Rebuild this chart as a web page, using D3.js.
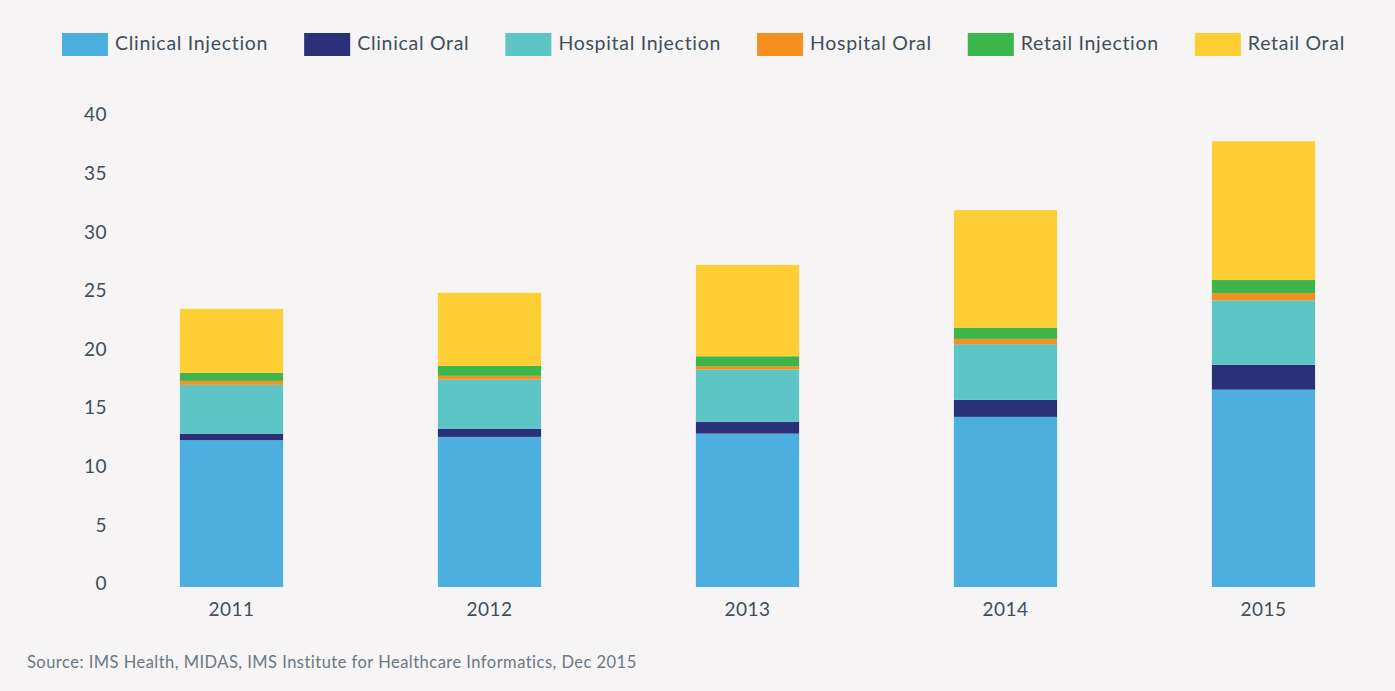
<!DOCTYPE html>
<html>
<head>
<meta charset="utf-8">
<script src="https://cdn.jsdelivr.net/npm/d3@7/dist/d3.min.js"></script>
<style>
    body { margin: 0; background: #f6f4f5; }
    #chart { width: 1395px; height: 691px; }
    text { font-family: Lato, "Open Sans", sans-serif; }
</style>
</head>
<body>
<div id="chart"></div>
<script>
// data (billions, stacked)
var years = ["2011", "2012", "2013", "2014", "2015"];
var seriesNames = ["Clinical Injection", "Clinical Oral", "Hospital Injection", "Hospital Oral", "Retail Injection", "Retail Oral"];
var clinicalInjection = [12.52, 12.80, 13.08, 14.51, 16.83];
var clinicalOral      = [0.56, 0.68, 1.00, 1.45, 2.13];
var hospitalInjection = [4.16, 4.21, 4.46, 4.75, 5.49];
var hospitalOral      = [0.34, 0.32, 0.29, 0.45, 0.62];
var retailInjection   = [0.68, 0.85, 0.85, 0.96, 1.11];
var retailOral        = [5.46, 6.23, 7.79, 10.02, 11.83];
var yTicks = [0, 5, 10, 15, 20, 25, 30, 35, 40];
var colors = ["#4daee0", "#2b3179", "#5dc5c5", "#f49120", "#3cb54a", "#fece35"];
var source = "Source: IMS Health, MIDAS, IMS Institute for Healthcare Informatics, Dec 2015";

var w = 1395, h = 691;
var textColor = "#3e4f5c";

var allSeries = [clinicalInjection, clinicalOral, hospitalInjection, hospitalOral, retailInjection, retailOral];
var table = years.map(function (y, i) {
    var row = { year: y };
    seriesNames.forEach(function (s, j) { row[s] = allSeries[j][i]; });
    return row;
});

var stacked = d3.stack().keys(seriesNames)(table);

var svg = d3.select("#chart")
    .append("svg")
    .attr("width", w)
    .attr("height", h);

svg.append("rect")
    .attr("width", w)
    .attr("height", h)
    .attr("fill", "#f6f4f5");

var xScale = d3.scaleBand()
    .domain(years)
    .range([102.5, 1392.5])
    .paddingInner(0.6)
    .paddingOuter(0.3);

var yScale = d3.scaleLinear()
    .domain([0, 40])
    .range([587, 118]);

var color = d3.scaleOrdinal().domain(seriesNames).range(colors);

// bars
svg.append("g").selectAll("g")
    .data(stacked)
    .enter()
    .append("g")
    .attr("fill", function (d) { return color(d.key); })
    .selectAll("rect")
    .data(function (d) { return d; })
    .enter()
    .append("rect")
    .attr("x", function (d) { return xScale(d.data.year); })
    .attr("y", function (d) { return yScale(d[1]); })
    .attr("width", xScale.bandwidth())
    .attr("height", function (d) { return yScale(d[0]) - yScale(d[1]); });

// y axis (labels only)
var yAxis = d3.axisLeft(yScale)
    .tickValues(yTicks)
    .tickSize(0)
    .tickPadding(0);

var gy = svg.append("g")
    .attr("transform", "translate(107,0)")
    .call(yAxis);
gy.select(".domain").remove();
gy.selectAll("text")
    .attr("font-family", "Lato, 'Open Sans', sans-serif")
    .attr("font-size", "19px")
    .attr("letter-spacing", "0.5px")
    .attr("fill", textColor)
    .attr("dy", "0.15em");

// x axis (labels only)
var xAxis = d3.axisBottom(xScale).tickSize(0).tickPadding(0);
var gx = svg.append("g")
    .attr("transform", "translate(0,587)")
    .call(xAxis);
gx.select(".domain").remove();
gx.selectAll("text")
    .attr("font-family", "Lato, 'Open Sans', sans-serif")
    .attr("font-size", "19px")
    .attr("letter-spacing", "0.5px")
    .attr("fill", textColor)
    .attr("dy", "1.55em");

// legend
var legend = svg.append("g");
var lx = 62;
seriesNames.forEach(function (s, i) {
    var item = legend.append("g").attr("transform", "translate(" + lx + ",0)");
    item.append("rect")
        .attr("x", 0)
        .attr("y", 33)
        .attr("width", 46)
        .attr("height", 23)
        .attr("fill", colors[i]);
    var t = item.append("text")
        .text(s)
        .attr("x", 53)
        .attr("y", 49.5)
        .attr("font-size", "19.5px")
        .attr("letter-spacing", "0.7px")
        .attr("fill", textColor);
    lx += 53 + t.node().getComputedTextLength() + 36;
});

svg.append("text")
    .text(source)
    .attr("x", 27)
    .attr("y", 668)
    .attr("font-size", "16.5px")
    .attr("letter-spacing", "0.47px")
    .attr("fill", "#6b7883");
</script>
</body>
</html>
